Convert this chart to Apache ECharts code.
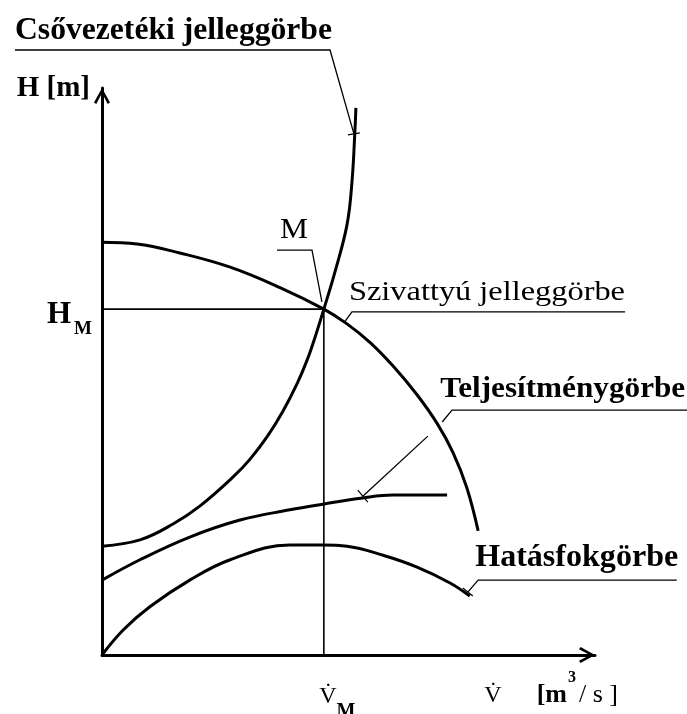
<!DOCTYPE html>
<html><head><meta charset="utf-8">
<script src="https://cdn.jsdelivr.net/npm/echarts@6/dist/echarts.min.js"></script>
<style>html,body{margin:0;padding:0;background:#fff}#c{width:687px;height:714px}</style>
</head><body><div id="c"></div>
<script>
// ---------- DATA ----------
const VM = 45, HM = 61;                       // operating point M
const xTickValues = [VM];
const yTickValues = [HM];
// Pump characteristic (Szivattyú jelleggörbe)
const pumpQ = [0, 7.1, 15.8, 26.0, 36.1, 45, 49.7, 54.4, 59.0, 63.9, 68.0, 71.2, 74.0, 76.3];
const pumpH = [72.8, 72.5, 70.9, 68.4, 64.8, 61, 58.4, 55.1, 51.0, 45.9, 40.8, 35.7, 29.5, 21.9];
// System / pipeline characteristic (Csővezetéki jelleggörbe)
const pipeQ = [0, 7.7, 14.4, 19.9, 26.6, 30.0, 33.5, 36.7, 39.6, 41.6, 43.2, 45, 47.3, 49.7, 50.7, 51.3, 51.5];
const pipeH = [19.2, 20.3, 23.1, 26.3, 31.4, 34.5, 38.5, 43.0, 47.9, 52.0, 56.0, 61, 67.7, 75.9, 83.4, 92.4, 96.5];
// Power curve (Teljesítménygörbe)
const powerQ = [0, 7.7, 17.8, 28.0, 38.1, 44.8, 52.9, 59.0, 70.0];
const powerP = [13.2, 16.8, 20.8, 23.8, 25.6, 26.6, 27.7, 28.2, 28.2];
// Efficiency curve (Hatásfokgörbe)
const effQ = [0, 4.3, 9.7, 17.8, 26.0, 38.1, 44.8, 49.7, 57.0, 63.9, 70.6, 74.6];
const effE = [0, 4.4, 8.5, 13.2, 16.8, 19.4, 19.4, 19.2, 17.6, 15.5, 12.7, 10.4];

const pairs = (xs, ys) => xs.map((x, i) => [x, ys[i]]);

// ---------- LAYOUT / ANNOTATIONS (data coordinates) ----------
const annotations = [
  { text: 'Csővezetéki jelleggörbe', font: 'bold 31px "Liberation Serif"', width: 317, at: [-17.65, 108.5],
    leader: [[[-17.65, 106.7], [46.25, 106.7], [51.1, 91.9]]], tick: [51.1, 91.9], tickDir: [6, -1] },
  { text: 'M', font: '30px "Liberation Serif"', width: 28, at: [36.1, 73.5],
    leader: [[[35.5, 71.4], [42.6, 71.4], [44.6, 62.3]]] },
  { text: 'Szivattyú jelleggörbe', font: '28px "Liberation Serif"', width: 276, at: [50.1, 62.6],
    leader: [[[106.1, 60.5], [50.7, 60.5], [49.1, 58.6]]] },
  { text: 'Teljesítménygörbe', font: 'bold 30px "Liberation Serif"', width: 245, at: [68.6, 45.3],
    leader: [[[118.7, 43.2], [71.0, 43.2], [69.0, 41.1]], [[66.1, 38.6], [52.9, 28.0]]], tick: [52.9, 28.0], tickDir: [5, 6] },
  { text: 'Hatásfokgörbe', font: 'bold 31px "Liberation Serif"', width: 203, at: [75.7, 15.5],
    leader: [[[116.6, 13.2], [76.3, 13.2], [74.2, 11.1]]], tick: [74.2, 11.1], tickDir: [5, 4] }
];

const chevron = 'path://M5,0 L10,9 L8.6,10 L5,3.2 L1.4,10 L0,9 Z';
const black = '#000';
const serif = 'Liberation Serif';
const curveStyle = { color: black, width: 3 };
const curve = (name, data) => ({ name, type: 'line', data, smooth: 0.4,
  symbol: 'none', lineStyle: curveStyle, silent: true });

const option = {
  animation: false,
  backgroundColor: '#fff',
  grid: { left: 102, right: 92, top: 88, bottom: 59, containLabel: false, outerBoundsMode: 'none' },
  xAxis: {
    type: 'value', min: 0, max: 100,
    axisLine: { show: true, onZero: false, lineStyle: { color: black, width: 3 },
      symbol: ['none', chevron], symbolSize: [18, 16], symbolOffset: [0, -8] },
    axisTick: { show: false }, splitLine: { show: false },
    axisLabel: {
      customValues: xTickValues, margin: 30, color: black, padding: [0, 0, 0, 27],
      formatter: () => '{v|V\u0307}{s|M}',
      rich: {
        v: { fontFamily: serif, fontSize: 24, color: black, verticalAlign: 'top', lineHeight: 37 },
        s: { fontFamily: serif, fontSize: 20, fontWeight: 'bold', color: black, verticalAlign: 'bottom', lineHeight: 37 }
      }
    },
    name: '{v|V\u0307}{g|}{u|[m}{p|3}{w|/ s ]}',
    nameLocation: 'end', nameGap: 23,
    nameTextStyle: {
      align: 'right', verticalAlign: 'top', padding: [15, 0, 0, 0],
      rich: {
        v: { fontFamily: serif, fontSize: 24, color: black, verticalAlign: 'bottom', lineHeight: 38 },
        g: { width: 35, lineHeight: 38 },
        u: { fontFamily: serif, fontSize: 26, fontWeight: 'bold', color: black, verticalAlign: 'bottom', lineHeight: 38 },
        w: { fontFamily: serif, fontSize: 26, color: black, verticalAlign: 'bottom', lineHeight: 38, padding: [0, 0, 0, 2] },
        p: { fontFamily: serif, fontSize: 16, fontWeight: 'bold', color: black, verticalAlign: 'top', lineHeight: 38, width: 10, align: 'center' }
      }
    }
  },
  yAxis: {
    type: 'value', min: 0, max: 100,
    axisLine: { show: true, onZero: false, lineStyle: { color: black, width: 3 },
      symbol: ['none', chevron], symbolSize: [18, 16], symbolOffset: [0, -8] },
    axisTick: { show: false }, splitLine: { show: false },
    axisLabel: {
      customValues: yTickValues, margin: 10, color: black, padding: [19, 0, 0, 0],
      formatter: () => '{h|H}{s|M}',
      rich: {
        h: { fontFamily: serif, fontSize: 31, fontWeight: 'bold', color: black, verticalAlign: 'top', lineHeight: 39 },
        s: { fontFamily: serif, fontSize: 19, fontWeight: 'bold', color: black, verticalAlign: 'bottom', lineHeight: 39, padding: [0, 0, 0, 3] }
      }
    },
    name: 'H [m]', nameLocation: 'end', nameGap: -15,
    nameTextStyle: { fontFamily: serif, fontSize: 29, fontWeight: 'bold', color: black,
      align: 'right', verticalAlign: 'bottom', padding: [0, 12, 0, 0] }
  },
  series: [
    curve('Szivattyú jelleggörbe', pairs(pumpQ, pumpH)),
    curve('Csővezetéki jelleggörbe', pairs(pipeQ, pipeH)),
    curve('Teljesítménygörbe', pairs(powerQ, powerP)),
    curve('Hatásfokgörbe', pairs(effQ, effE)),
    { name: 'M guides', type: 'line', data: [[0, HM], [VM, HM], [VM, 0]], symbol: 'none',
      lineStyle: { color: black, width: 1.6 }, silent: true, z: 1 }
  ]
};

const chart = echarts.init(document.getElementById('c'), null, { renderer: 'canvas' });
chart.setOption(option);

const P = p => chart.convertToPixel({ gridIndex: 0 }, p);
const ctx = document.createElement('canvas').getContext('2d');
const graphics = [];
annotations.forEach(a => {
  ctx.font = a.font;
  const sx = a.width / ctx.measureText(a.text).width;
  const fs = parseFloat(a.font.match(/(\d+)px/)[1]);
  const pt = P(a.at);
  graphics.push({ type: 'text', x: pt[0], y: pt[1] + fs * 0.22, scaleX: sx, silent: true,
    style: { text: a.text, font: a.font, fill: black, align: 'left', verticalAlign: 'bottom' } });
  a.leader.forEach(seg => {
    graphics.push({ type: 'polyline', silent: true, shape: { points: seg.map(P) },
      style: { stroke: black, lineWidth: 1.3, fill: null } });
  });
  if (a.tick) {
    const t = P(a.tick), d = a.tickDir;
    graphics.push({ type: 'line', silent: true, shape: { x1: t[0] - d[0], y1: t[1] - d[1], x2: t[0] + d[0], y2: t[1] + d[1] },
      style: { stroke: black, lineWidth: 1.2 } });
  }
});
chart.setOption({ graphic: graphics });
</script></body></html>
